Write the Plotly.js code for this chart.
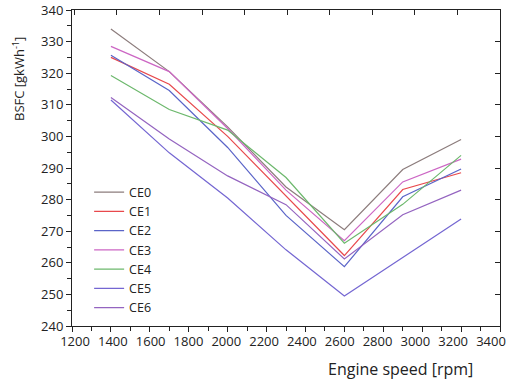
<!DOCTYPE html>
<html>
<head>
<meta charset="utf-8">
<script src="https://cdn.plot.ly/plotly-3.0.1.min.js"></script>
<style>html,body{margin:0;padding:0;background:#fff;}#chart{width:507px;height:381px;}</style>
</head>
<body>
<div id="chart"></div>
<script>
const speed = [1400, 1700, 2000, 2300, 2600, 2900, 3200];
const seriesNames = ["CE0", "CE1", "CE2", "CE3", "CE4", "CE5", "CE6"];
const ce0 = [334, 320.5, 303, 284, 270.5, 289.5, 299];
const ce1 = [325, 316.5, 300, 281, 262.3, 283.2, 288.5];
const ce2 = [325.7, 314.5, 296.5, 275, 258.8, 280.9, 289.7];
const ce3 = [328.5, 320.5, 302.5, 283, 267, 285.6, 292.8];
const ce4 = [319.3, 308.5, 302, 287, 266.2, 278.5, 294];
const ce5 = [311.5, 294.8, 280.5, 264.1, 249.5, 261.7, 273.9];
const ce6 = [312.3, 299.2, 287.5, 278.4, 261.2, 275.2, 283];
const seriesValues = [ce0, ce1, ce2, ce3, ce4, ce5, ce6];
const colors = ["#8c7c7c", "#e8484c", "#5a64c8", "#cc66c4", "#6cb86c", "#7466d2", "#9464c0"];

const traces = seriesNames.map((n, i) => ({
  x: speed, y: seriesValues[i], name: n, type: "scatter", mode: "lines",
  line: {color: colors[i], width: 1.2}
}));
// invisible helper traces for mirrored / label axes
traces.push({x: [0], y: [300], xaxis: "x2", yaxis: "y2", mode: "markers", marker: {opacity: 0}, showlegend: false, hoverinfo: "skip"});
traces.push({x: [2000], y: [300], xaxis: "x3", yaxis: "y", mode: "markers", marker: {opacity: 0}, showlegend: false, hoverinfo: "skip"});

const FAM = "Open Sans, DejaVu Sans, sans-serif";
const layout = {
  width: 507, height: 381,
  margin: {l: 72, r: 7, t: 10, b: 55},
  paper_bgcolor: "#fff", plot_bgcolor: "#fff",
  font: {family: FAM, size: 13, color: "#222"},
  showlegend: true,
  legend: {x: 0.04, y: 0.47, xanchor: "left", yanchor: "top", bgcolor: "rgba(0,0,0,0)",
           font: {family: FAM, size: 12.5, color: "#222"}, tracegroupgap: 0},
  xaxis: {range: [1200, 3400], dtick: 200, tick0: 1200, showgrid: false, zeroline: false,
          showline: true, linecolor: "#222", linewidth: 1, ticks: "outside", ticklen: 5, tickcolor: "#222",
          minor: {dtick: 100, ticks: "outside", ticklen: 4, tickcolor: "#222"},
          showticklabels: false},
  xaxis3: {overlaying: "x", side: "bottom", anchor: "y", range: [1184.1, 3447.6], dtick: 200, tick0: 1200,
           showgrid: false, zeroline: false, showline: false, ticks: "", ticklabelstandoff: 6,
           ticklabeloverflow: "allow",
           tickfont: {family: FAM, size: 13, color: "#222"}},
  yaxis: {range: [240, 340], dtick: 10, tick0: 240, showgrid: false, zeroline: false,
          showline: true, linecolor: "#222", linewidth: 1, ticks: "outside", ticklen: 5, tickcolor: "#222",
          minor: {dtick: 5, ticks: "outside", ticklen: 4, tickcolor: "#222"},
          tickfont: {family: FAM, size: 13, color: "#222"}},
  xaxis2: {overlaying: "x", side: "top", range: [-1.056, 9.0], dtick: 1, tick0: 0, showgrid: false, zeroline: false,
           showline: true, linecolor: "#222", linewidth: 1, ticks: "inside", ticklen: 5, tickcolor: "#222",
           showticklabels: false, anchor: "y2"},
  yaxis2: {overlaying: "y", side: "right", range: [240, 340], dtick: 10, tick0: 240, showgrid: false, zeroline: false,
           showline: true, linecolor: "#222", linewidth: 1, ticks: "inside", ticklen: 5, tickcolor: "#222",
           showticklabels: false, anchor: "x2"},
  annotations: [
    {text: "BSFC [gkWh<sup>-1</sup>]", textangle: -90, xref: "paper", yref: "paper",
     x: -0.125, y: 0.78, xanchor: "center", yanchor: "middle", showarrow: false,
     font: {family: FAM, size: 13, color: "#222"}},
    {text: "Engine speed [rpm]", xref: "paper", yref: "paper", x: 0.768, y: -0.135,
     xanchor: "center", yanchor: "middle", showarrow: false,
     font: {family: FAM, size: 16, color: "#222"}}
  ]
};
Plotly.newPlot("chart", traces, layout, {staticPlot: true, displayModeBar: false});
</script>
</body>
</html>
